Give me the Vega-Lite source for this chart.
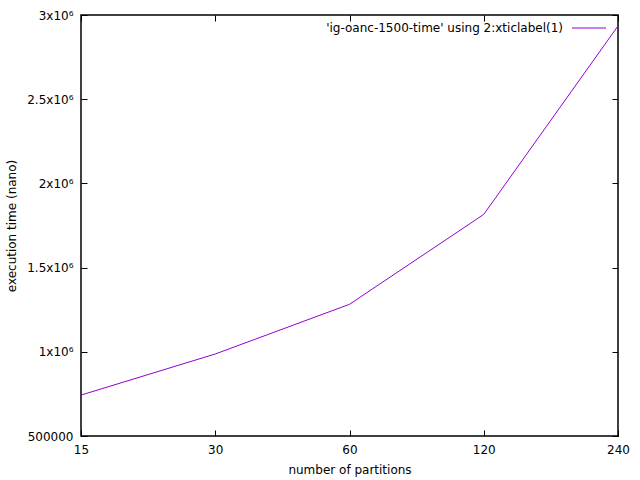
{
  "$schema": "https://vega.github.io/schema/vega-lite/v6.json",
  "width": 537,
  "height": 421,
  "autosize": {"type": "none"},
  "padding": {"left": 81, "top": 15, "right": 22, "bottom": 44},
  "config": {
    "font": "DejaVu Sans",
    "view": {"stroke": "black", "strokeWidth": 1.5},
    "axis": {
      "labelFont": "DejaVu Sans",
      "titleFont": "DejaVu Sans",
      "labelFontSize": 12,
      "titleFontSize": 12,
      "titleFontWeight": "normal",
      "labelColor": "black",
      "titleColor": "black",
      "grid": false,
      "domain": false,
      "tickColor": "black",
      "tickWidth": 1,
      "tickSize": -6
    }
  },
  "data": {
    "values": [
      {"partitions": "15", "time": 743000, "series": "'ig-oanc-1500-time' using 2:xticlabel(1)"},
      {"partitions": "30", "time": 987000, "series": "'ig-oanc-1500-time' using 2:xticlabel(1)"},
      {"partitions": "60", "time": 1282000, "series": "'ig-oanc-1500-time' using 2:xticlabel(1)"},
      {"partitions": "120", "time": 1816000, "series": "'ig-oanc-1500-time' using 2:xticlabel(1)"},
      {"partitions": "240", "time": 2935000, "series": "'ig-oanc-1500-time' using 2:xticlabel(1)"}
    ]
  },
  "layer": [
    {
      "mark": {"type": "line", "strokeWidth": 1, "clip": true},
      "encoding": {
        "x": {
          "field": "partitions", "type": "ordinal", "sort": null,
          "scale": {"type": "point", "padding": 0},
          "axis": {"title": "number of partitions", "labelAngle": 0, "labelPadding": 14, "titlePadding": 9, "orient": "bottom"}
        },
        "y": {
          "field": "time", "type": "quantitative",
          "scale": {"domain": [500000, 3000000], "nice": false, "zero": false},
          "axis": {
            "title": "execution time (nano)",
            "values": [500000, 1000000, 1500000, 2000000, 2500000, 3000000],
            "labelExpr": "datum.value == 500000 ? '500000' : format(datum.value / 1000000, '') + 'x10⁶'",
            "labelPadding": 14,
            "titlePadding": 8,
            "orient": "left"
          }
        },
        "color": {
          "field": "series", "type": "nominal",
          "scale": {"range": ["#9400d3"]},
          "legend": {
            "title": null,
            "orient": "none",
            "legendX": 490,
            "legendY": -5,
            "symbolType": "M-1,0L1,0",
            "symbolSize": 1156,
            "symbolStrokeWidth": 1.2,
            "symbolStrokeColor": "#9400d3",
            "labelFontSize": 12,
            "labelFont": "DejaVu Sans",
            "labelColor": "black",
            "labelAlign": "right",
            "labelOffset": -44,
            "labelLimit": 400
          }
        }
      }
    },
    {
      "mark": {"type": "line", "opacity": 0},
      "encoding": {
        "x": {
          "field": "partitions", "type": "ordinal", "sort": null,
          "scale": {"type": "point", "padding": 0},
          "axis": {"orient": "top", "labels": false, "title": null}
        },
        "y": {
          "field": "time", "type": "quantitative",
          "scale": {"domain": [500000, 3000000], "nice": false, "zero": false},
          "axis": {"orient": "right", "labels": false, "title": null, "values": [500000, 1000000, 1500000, 2000000, 2500000, 3000000]}
        }
      }
    }
  ],
  "resolve": {"axis": {"x": "independent", "y": "independent"}}
}
